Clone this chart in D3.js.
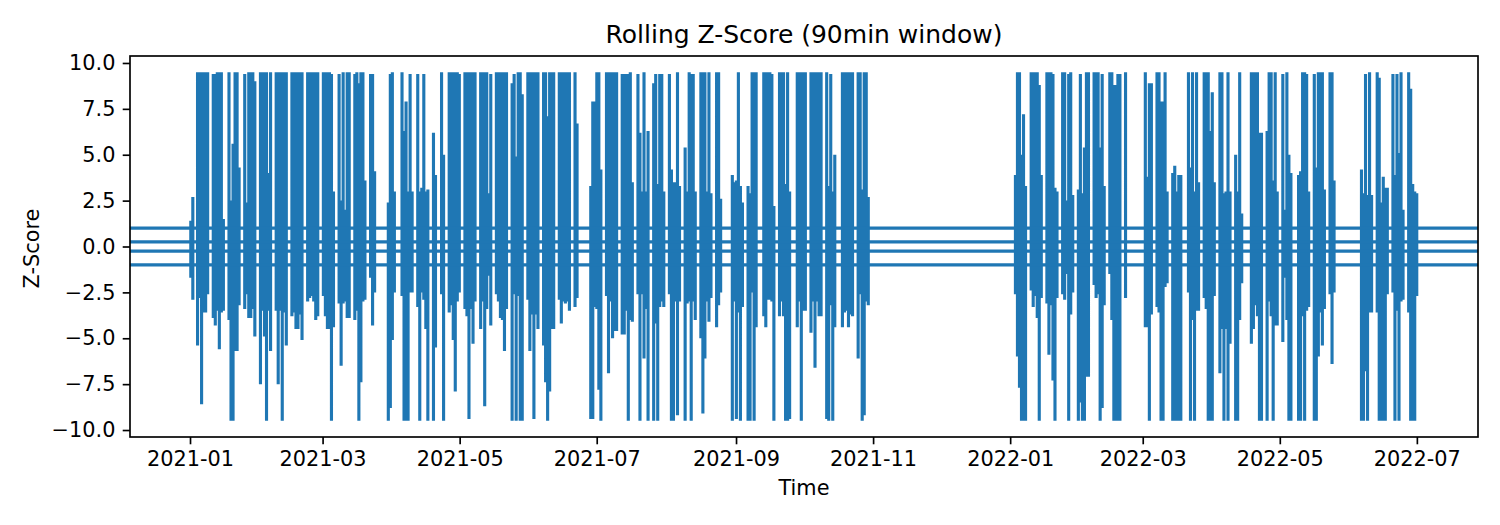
<!DOCTYPE html>
<html>
<head>
<meta charset="utf-8">
<script src="https://cdnjs.cloudflare.com/ajax/libs/d3/7.9.0/d3.min.js"></script>
<style>
  html, body { margin: 0; padding: 0; background: #fff; }
  svg { display: block; }
  text { font-family: "DejaVu Sans", sans-serif; fill: #000; }
</style>
</head>
<body>
<div id="chart"></div>
<script>
const chartTitle = 'Rolling Z-Score (90min window)';
const xLabel = 'Time';
const yLabel = 'Z-Score';

const xDomain = ['2020-12-05T07:00Z', '2022-07-28T05:00Z'];
const yDomain = [-10.38, 10.38];
const xTicks = ['2021-01-01', '2021-03-01', '2021-05-01', '2021-07-01', '2021-09-01', '2021-11-01',
  '2022-01-01', '2022-03-01', '2022-05-01', '2022-07-01'];
const yTicks = [-10, -7.5, -5, -2.5, 0, 2.5, 5, 7.5, 10];
const refLevels = [1, 0.25, -0.25, -1];

// one row per trading week, six columns per week (_ = nothing drawn)
const _ = null;
const weekStarts = ['2021-01-01', '2021-01-04', '2021-01-11', '2021-01-18', '2021-01-25', '2021-02-01', '2021-02-08',
  '2021-02-15', '2021-02-22', '2021-03-01', '2021-03-08', '2021-03-15', '2021-03-22', '2021-03-29', '2021-04-05',
  '2021-04-12', '2021-04-19', '2021-04-26', '2021-05-03', '2021-05-10', '2021-05-17', '2021-05-24', '2021-05-31',
  '2021-06-07', '2021-06-14', '2021-06-21', '2021-06-28', '2021-07-05', '2021-07-12', '2021-07-19', '2021-07-26',
  '2021-08-02', '2021-08-09', '2021-08-16', '2021-08-23', '2021-08-30', '2021-09-06', '2021-09-13', '2021-09-20',
  '2021-09-27', '2021-10-04', '2021-10-11', '2021-10-18', '2021-10-25',
  '2022-01-03', '2022-01-10', '2022-01-17', '2022-01-24', '2022-01-31', '2022-02-07', '2022-02-14', '2022-02-21',
  '2022-02-28', '2022-03-07', '2022-03-14', '2022-03-21', '2022-03-28', '2022-04-04', '2022-04-11', '2022-04-18',
  '2022-04-25', '2022-05-02', '2022-05-09', '2022-05-16', '2022-05-23', '2022-06-06', '2022-06-13', '2022-06-20',
  '2022-06-27'];

const weekHigh = [
  [1.4, 2.7, _, _, _, _],
  [9.5, 9.5, 9.5, 9.5, 9.5, 9.5],
  [9.4, 9.4, 9.5, 9.5, 9.5, 1.5],
  [9.5, 2.5, 5.6, 9.5, 9.5, 4.3],
  [9.4, 2.4, 9.5, 9.5, 9.5, 9.0],
  [9.5, 9.5, 9.5, 9.5, 4.0, 9.5],
  [9.5, 9.5, 9.5, 9.5, 9.5, 9.5],
  [9.5, 9.5, 9.5, 9.5, 9.5, 9.5],
  [9.5, 9.5, 9.5, 9.5, 9.5, 9.5],
  [9.5, 9.5, 9.5, 9.5, 9.4, 3.0],
  [9.4, 2.5, 9.5, 2.0, 9.5, 9.5],
  [9.4, 9.5, 8.9, 9.5, 9.5, 3.6],
  [9.4, 9.4, 4.1, _, _, _],
  [_, 2.4, 9.4, 9.5, 3.0, _],
  [9.5, 6.3, 7.9, 3.0, 9.4, 3.0],
  [9.4, 3.0, 3.2, 9.4, 3.0, 3.1],
  [6.2, 3.9, _, _, 9.5, 5.0],
  [9.5, 9.5, 9.5, 9.5, 9.5, 9.4],
  [9.5, 9.5, 9.5, 9.5, 9.5, 9.5],
  [9.5, 9.5, 9.5, 9.5, 2.9, 9.4],
  [9.5, 9.5, 9.5, 9.5, 9.5, 9.5],
  [8.9, 9.4, 4.9, 9.5, 9.5, 8.3],
  [9.5, 9.5, 9.5, 9.5, 9.5, 9.5],
  [9.5, 9.5, 7.1, 9.5, 9.5, 9.5],
  [9.5, 9.5, 9.5, 9.5, 9.5, 9.5],
  [9.5, 6.7, _, _, _, _],
  [3.3, 7.9, 7.9, 9.5, 9.5, 4.2],
  [9.5, 9.5, 9.5, 9.5, 9.5, 9.5],
  [9.4, 9.4, 9.4, 9.4, 9.5, 3.5],
  [9.4, 6.2, 3.0, 9.5, 3.0, 6.3],
  [8.9, 9.4, 3.4, 9.4, 9.4, 3.0],
  [9.4, 4.2, 3.5, 3.5, 9.5, 3.3],
  [5.4, 3.0, 9.5, 9.4, 9.4, 3.0],
  [9.5, 9.5, 9.5, 3.0, 9.5, 2.9],
  [9.5, 9.5, 2.6, _, _, _],
  [3.9, 3.5, 3.6, 9.5, 3.3, 2.4],
  [3.3, 2.9, 9.5, 9.5, 9.5, _],
  [9.5, 9.5, 9.5, 9.5, 9.4, 2.2],
  [9.5, 9.5, 9.5, 3.4, 9.5, 3.0],
  [_, 9.5, 9.5, 9.5, 9.5, 9.5],
  [9.5, 9.5, 9.5, 9.5, 9.5, 9.5],
  [9.5, 3.3, 9.4, 3.0, 5.0, _],
  [9.5, 9.5, 9.5, 9.5, 9.5, 9.5],
  [9.5, 9.5, 3.1, 9.5, 9.5, 2.7],
  [3.9, 9.5, 9.5, 5.0, 7.2, 3.3],
  [9.5, 9.5, 9.5, 9.5, 8.8, 3.9],
  [9.5, 9.5, 9.5, 9.4, 3.2, 3.0],
  [9.5, 9.5, 2.5, 9.4, 9.5, 2.8],
  [3.1, 9.4, 2.9, 5.4, 9.5, 9.5],
  [9.5, 9.5, 9.5, 5.4, 9.4, 3.3],
  [9.5, 9.5, 8.8, 8.8, 9.4, 9.4],
  [9.5, _, _, _, _, _],
  [_, _, 9.5, 3.8, 8.9, 8.9],
  [9.5, 9.5, 7.9, 7.9, 9.5, 3.0],
  [4.0, 4.4, 3.0, 3.9, 3.9, _],
  [9.5, 4.3, 9.5, 3.0, 9.5, 3.5],
  [9.5, 9.5, 9.5, 6.3, 8.4, 3.5],
  [9.5, 9.5, 2.9, 3.0, 9.5, 3.0],
  [5.0, 3.0, 9.5, 1.8, _, _],
  [9.5, 9.5, 9.5, 9.5, 6.2, 6.2],
  [6.3, 9.5, 9.5, 3.6, 9.5, 3.0],
  [9.4, 2.0, 9.5, 5.0, 4.0, _],
  [3.9, 4.1, 9.5, 9.5, 9.4, 3.0],
  [9.4, 4.3, 9.5, 9.5, 9.5, 3.1],
  [9.5, 9.5, 3.6, _, _, _],
  [4.2, 2.9, 9.4, 2.8, 9.5, 2.8],
  [9.5, 9.2, 2.4, 3.8, 3.2, 3.2],
  [9.4, 3.9, 9.4, 5.1, 9.5, 2.0],
  [9.5, 8.6, 3.4, 3.0, 2.9, _]
];

const weekLow = [
  [-1.7, -2.9, _, _, _, _],
  [-5.4, -2.8, -8.6, -3.6, -3.6, -2.6],
  [-3.9, -4.3, -3.5, -5.6, -3.6, -3.5],
  [-4.0, -9.5, -9.5, -5.7, -5.7, -3.2],
  [-3.4, -2.6, -3.9, -3.9, -3.4, -4.9],
  [-7.5, -3.5, -4.9, -9.5, -3.5, -5.7],
  [-3.5, -7.5, -3.5, -9.5, -3.6, -5.4],
  [-3.8, -3.6, -4.5, -4.5, -3.7, -5.1],
  [-3.0, -2.8, -2.7, -3.0, -4.0, -3.8],
  [-2.7, -3.8, -4.5, -4.5, -9.5, -4.4],
  [-3.1, -6.5, -3.1, -3.0, -3.9, -3.9],
  [-4.0, -3.5, -9.5, -7.4, -3.0, -2.9],
  [-1.7, -4.3, -2.5, _, _, _],
  [_, -9.5, -8.8, -5.1, -2.5, _],
  [-2.7, -9.5, -9.5, -9.5, -2.5, -2.5],
  [-3.3, -9.5, -2.5, -2.9, -4.5, -9.5],
  [-9.5, -5.5, _, _, -2.6, -9.5],
  [-3.6, -3.2, -5.1, -7.9, -3.0, -2.5],
  [-3.4, -3.8, -9.4, -3.4, -5.3, -3.0],
  [-4.5, -3.0, -8.7, -3.4, -1.6, -4.3],
  [-2.6, -3.0, -3.9, -4.0, -5.7, -3.4],
  [-9.5, -2.6, -9.5, -2.7, -9.5, -9.5],
  [-2.9, -5.7, -3.7, -9.4, -3.7, -4.5],
  [-5.4, -7.4, -9.5, -7.9, -4.5, -4.5],
  [-2.9, -4.2, -3.0, -3.1, -3.0, -3.5],
  [-3.3, -2.8, _, _, _, _],
  [-9.4, -9.4, -3.3, -3.4, -7.8, -9.5],
  [-2.7, -6.9, -3.0, -5.0, -4.6, -4.6],
  [-4.8, -4.8, -3.5, -9.5, -4.0, -4.1],
  [-2.6, -9.5, -2.6, -6.1, -3.4, -9.5],
  [-9.5, -4.2, -9.5, -3.3, -3.0, -3.3],
  [-2.6, -9.5, -9.5, -3.0, -9.2, -3.0],
  [-9.5, -3.1, -3.0, -9.5, -3.0, -4.0],
  [-5.0, -9.1, -6.1, -3.0, -4.1, -2.8],
  [-4.4, -3.2, -2.5, _, _, _],
  [-9.5, -3.0, -9.4, -3.6, -9.5, -3.3],
  [-9.5, -9.5, -2.5, -9.5, -4.4, _],
  [-3.8, -4.4, -2.9, -2.9, -3.0, -9.5],
  [-3.8, -3.0, -3.8, -9.5, -9.5, -9.4],
  [_, -4.4, -3.0, -9.5, -3.5, -3.5],
  [-4.7, -3.0, -6.6, -3.0, -3.8, -3.8],
  [-9.4, -9.5, -3.2, -9.5, -4.4, _],
  [-4.4, -3.6, -3.5, -4.4, -3.7, -3.8],
  [-6.1, -2.6, -9.5, -9.2, -3.0, -3.2],
  [-2.6, -6.0, -7.7, -9.5, -9.5, -9.5],
  [-2.4, -3.3, -2.7, -3.9, -9.5, -2.8],
  [-3.1, -5.9, -3.2, -7.3, -9.5, -2.8],
  [-2.6, -2.9, -1.5, -9.5, -3.7, -2.5],
  [-9.5, -8.5, -9.5, -9.5, -7.1, -7.1],
  [-2.1, -2.8, -2.6, -9.5, -8.8, -3.2],
  [-1.5, -4.0, -9.5, -9.5, -9.5, -9.5],
  [-2.8, _, _, _, _, _],
  [_, _, -4.4, -4.4, -9.5, -3.7],
  [-3.3, -3.6, -9.5, -9.5, -2.2, -2.0],
  [-9.5, -9.5, -9.5, -9.5, -9.5, _],
  [-2.5, -9.5, -4.0, -9.5, -3.5, -3.5],
  [-2.8, -3.4, -9.5, -9.5, -9.5, -2.7],
  [-6.9, -4.5, -9.5, -4.5, -9.5, -5.3],
  [-9.5, -9.5, -4.0, -2.0, _, _],
  [-5.3, -4.5, -3.2, -3.8, -9.5, -9.5],
  [-9.5, -3.0, -3.8, -9.5, -4.3, -4.3],
  [-5.2, -1.7, -4.0, -9.5, -9.5, _],
  [-9.5, -9.5, -3.8, -9.5, -3.5, -3.3],
  [-9.5, -9.5, -6.0, -3.6, -5.4, -3.4],
  [-2.6, -6.4, -2.5, _, _, _],
  [-9.5, -9.5, -6.8, -9.5, -3.6, -3.6],
  [-3.6, -9.5, -9.5, -9.5, -9.5, -2.6],
  [-2.5, -9.5, -3.5, -9.5, -3.0, -2.9],
  [-3.6, -9.5, -9.5, -9.5, -2.7, _]
];

const width = 1500, height = 525;
const margin = { top: 56, right: 22, bottom: 88, left: 130 };
const pt = 150 / 72; // figure was saved at 150 dpi
const lineColor = '#1f77b4';

// days between columns inside a trading week
const columnOffset = 0.35, columnStep = 0.9;
const dayMs = 86400000;

// each column swings hi -> lo and comes back to the mean before the next one
const points = [];
weekStarts.forEach((start, w) => {
  const monday = Date.parse(start + 'T00:00Z');
  weekHigh[w].forEach((hi, c) => {
    if (hi === null) { points.push(null); return; }
    const t = new Date(monday + (columnOffset + columnStep * c) * dayMs);
    points.push({ t, z: 0 }, { t, z: hi }, { t, z: weekLow[w][c] }, { t, z: 0 });
  });
  points.push(null);
});

const x = d3.scaleUtc()
  .domain(xDomain.map(d => new Date(d)))
  .range([margin.left, width - margin.right]);

const y = d3.scaleLinear()
  .domain(yDomain)
  .range([height - margin.bottom, margin.top]);

const svg = d3.select('#chart').append('svg')
  .attr('width', width)
  .attr('height', height)
  .attr('viewBox', `0 0 ${width} ${height}`);

// Z-score line, bevel joins so the spike tips end flat
const line = d3.line()
  .defined(d => d !== null)
  .x(d => x(d.t))
  .y(d => y(d.z));

svg.append('path')
  .datum(points)
  .attr('d', line)
  .attr('fill', 'none')
  .attr('stroke', lineColor)
  .attr('stroke-width', 1.5 * pt)
  .attr('stroke-linejoin', 'bevel');

// Reference levels
svg.selectAll('line.level')
  .data(refLevels)
  .join('line')
  .attr('class', 'level')
  .attr('x1', margin.left)
  .attr('x2', width - margin.right)
  .attr('y1', d => y(d))
  .attr('y2', d => y(d))
  .attr('stroke', lineColor)
  .attr('stroke-width', 1.5 * pt);

// Axes
const xAxis = d3.axisBottom(x)
  .tickValues(xTicks.map(d => new Date(d + 'T00:00Z')))
  .tickFormat(d3.utcFormat('%Y-%m'))
  .tickSize(3.5 * pt)
  .tickPadding(3.5 * pt);

const yAxis = d3.axisLeft(y)
  .tickValues(yTicks)
  .tickFormat(d3.format('.1f'))
  .tickSize(3.5 * pt)
  .tickPadding(3.5 * pt);

const gx = svg.append('g')
  .attr('transform', `translate(0,${height - margin.bottom})`)
  .call(xAxis);
const gy = svg.append('g')
  .attr('transform', `translate(${margin.left},0)`)
  .call(yAxis);

[gx, gy].forEach(g => {
  g.select('.domain').remove();
  g.selectAll('.tick line').attr('stroke', '#000').attr('stroke-width', 0.8 * pt);
  g.selectAll('.tick text').attr('font-size', 10 * pt).attr('fill', '#000');
  g.attr('font-family', null);
});

// Frame
svg.append('rect')
  .attr('x', margin.left)
  .attr('y', margin.top)
  .attr('width', width - margin.left - margin.right)
  .attr('height', height - margin.top - margin.bottom)
  .attr('fill', 'none')
  .attr('stroke', '#000')
  .attr('stroke-width', 0.8 * pt);

// Titles
svg.append('text')
  .attr('x', (margin.left + width - margin.right) / 2)
  .attr('y', 43)
  .attr('text-anchor', 'middle')
  .attr('font-size', 12 * pt)
  .text(chartTitle);

svg.append('text')
  .attr('x', (margin.left + width - margin.right) / 2)
  .attr('y', 495)
  .attr('text-anchor', 'middle')
  .attr('font-size', 10 * pt)
  .text(xLabel);

svg.append('text')
  .attr('transform', `translate(39,${(margin.top + height - margin.bottom) / 2 + 2}) rotate(-90)`)
  .attr('text-anchor', 'middle')
  .attr('font-size', 10 * pt)
  .text(yLabel);
</script>
</body>
</html>
